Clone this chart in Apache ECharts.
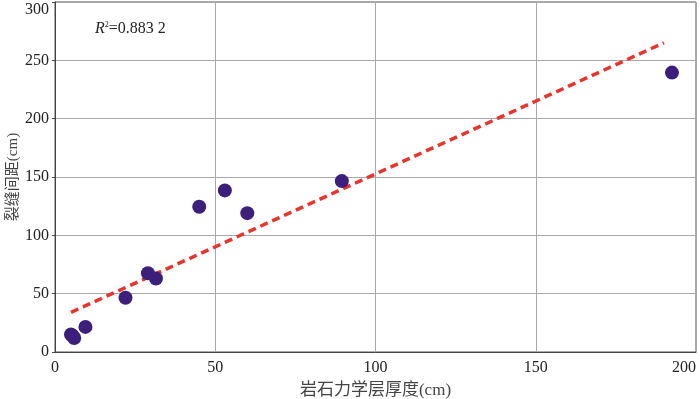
<!DOCTYPE html>
<html>
<head>
<meta charset="utf-8">
<script src="https://cdn.jsdelivr.net/npm/echarts@6/dist/echarts.min.js"></script>
<style>
  html, body { margin: 0; padding: 0; background: #fff; }
  #chart { width: 700px; height: 399px; }
</style>
</head>
<body>
<div id="chart"></div>
<script>
(function(){

    // thickness (cm) vs. fracture spacing (cm)
    let thickness = [5, 6, 5.5, 9.5, 22, 29, 31.5, 45, 53, 60, 89.5, 192.5];
    let spacing   = [15, 12, 14, 21.5, 46.5, 67.5, 63, 124.5, 138.5, 119, 146.5, 239.5];

    // fitted trend line end points
    let trendX = [5, 190];
    let trendY = [34, 265];

    let xTicks = [0, 50, 100, 150, 200];
    let yTicks = [0, 50, 100, 150, 200, 250, 300];

    let serif = '"Liberation Serif", "Noto Sans CJK SC", serif';

    let chart = echarts.init(document.getElementById('chart'), null, {renderer: 'canvas'});

    let option = {
        animation: false,
        grid: {
            left: 55,
            right: 4,
            top: 2,
            bottom: 47,
            outerBoundsMode: 'none',
            containLabel: false,
            show: true,
            borderColor: '#555',
            borderWidth: 1
        },
        xAxis: {
            type: 'value',
            min: xTicks[0],
            max: xTicks[xTicks.length - 1],
            interval: 50,
            name: '岩石力学层厚度(cm)',
            nameLocation: 'middle',
            nameGap: 30,
            nameMoveOverlap: false,
            nameTextStyle: { fontFamily: serif, fontSize: 17, color: '#444' },
            axisLine: { show: true, lineStyle: { color: '#444', width: 1 } },
            axisTick: { show: false },
            axisLabel: { fontFamily: serif, fontSize: 16, color: '#222', margin: 8, alignMaxLabel: 'right' },
            splitLine: { show: true, lineStyle: { color: '#a8a8a8', width: 1 } }
        },
        yAxis: {
            type: 'value',
            min: yTicks[0],
            max: yTicks[yTicks.length - 1],
            interval: 50,
            name: '裂缝间距(cm)',
            nameLocation: 'middle',
            nameGap: 34,
            nameMoveOverlap: false,
            nameTextStyle: { fontFamily: serif, fontSize: 15, color: '#444' },
            axisLine: { show: true, lineStyle: { color: '#444', width: 1 } },
            axisTick: { show: true, length: 3, lineStyle: { color: '#444' } },
            axisLabel: { fontFamily: serif, fontSize: 16, color: '#222', margin: 6, verticalAlignMaxLabel: 'top' },
            splitLine: { show: true, lineStyle: { color: '#a8a8a8', width: 1 } }
        },
        graphic: [
            {
                type: 'text',
                left: 95,
                top: 21,
                style: {
                    rich: {
                        i: { fontFamily: serif, fontStyle: 'italic', fontSize: 16, fill: '#222' },
                        s: { fontFamily: serif, fontSize: 8, fill: '#222', verticalAlign: 'top', padding: [0, 0, 8, 0] },
                        n: { fontFamily: serif, fontSize: 16, fill: '#222' }
                    },
                    text: '{i|R}{s|2}{n|=0.883 2}'
                }
            }
        ],
        series: [
            {
                type: 'line',
                data: trendX.map((x, i) => [x, trendY[i]]),
                symbol: 'none',
                lineStyle: { color: '#e8342c', width: 3.5, type: [8, 5] },
                z: 2
            },
            {
                type: 'scatter',
                data: thickness.map((x, i) => [x, spacing[i]]),
                symbolSize: 14,
                itemStyle: { color: '#3b1f7a', opacity: 1 },
                z: 3
            }
        ]
    };

    chart.setOption(option);

})();
</script>
</body>
</html>
